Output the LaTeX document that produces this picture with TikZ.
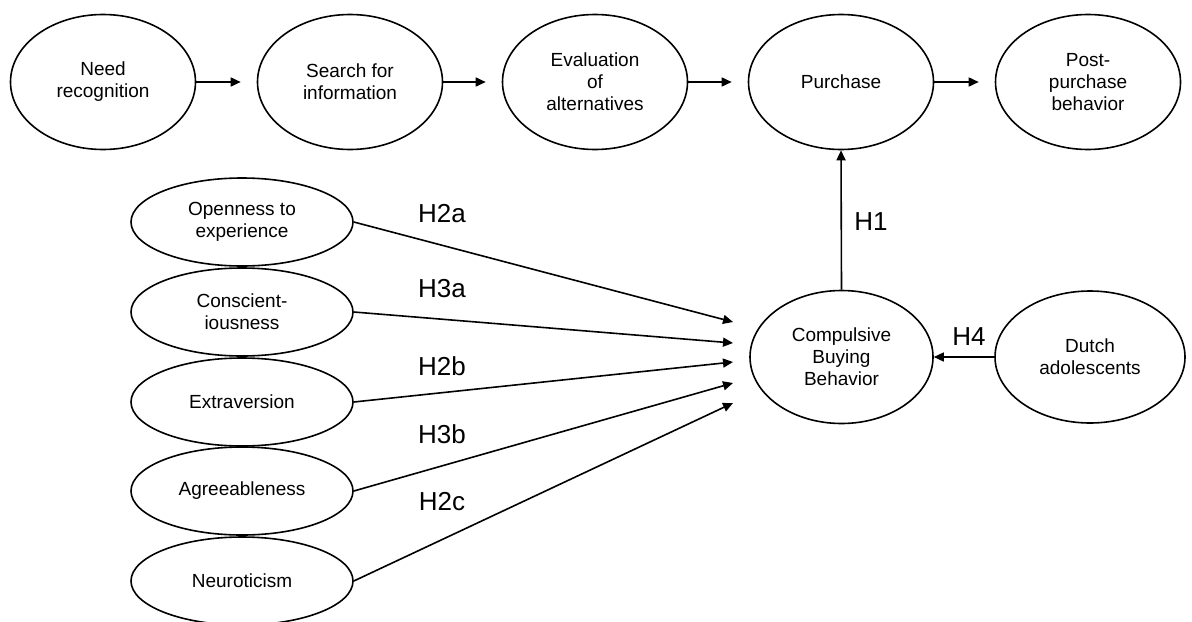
\documentclass[tikz,border=0pt]{standalone}
\usepackage{fontspec}
\setmainfont{Liberation Sans}
\usetikzlibrary{shapes.geometric,arrows.meta}
\tikzset{
	stage/.style={draw,thick,ellipse,inner sep=0pt,minimum width=92.5pt,minimum height=67.5pt,align=center,font=\fontsize{9.5}{11}\selectfont},
	trait/.style={draw,thick,ellipse,inner sep=0pt,minimum width=111pt,minimum height=44pt,align=center,font=\fontsize{9.5}{11}\selectfont},
	hyp/.style={font=\fontsize{13}{15}\selectfont},
	link/.style={thick,-{Triangle[length=5pt,width=4.5pt]}}
}
\begin{document}
\begin{tikzpicture}[x=0.5pt,y=-0.5pt]
	\useasboundingbox (0,0) rectangle (1192,621);
	\clip (0,0) rectangle (1192,621);
	% buying process
	\node[stage] (need) at (103,82) {Need\\recognition};
	\node[stage] (search) at (350,82) {Search for\\information};
	\node[stage] (eval) at (595,82) {Evaluation\\of\\alternatives};
	\node[stage] (purch) at (841,82) {Purchase};
	\node[stage] (post) at (1088,82) {Post-\\purchase\\behavior};
	\foreach \a/\b in {need/search,search/eval,eval/purch,purch/post} \draw[link,shorten >=8pt] (\a.east) -- (\b.west);
	% personality traits
	\node[trait] (open) at (242,222) {Openness to\\experience};
	\node[trait] (consc) at (242,312) {Conscient-\\iousness};
	\node[trait] (extra) at (242,402) {Extraversion};
	\node[trait] (agree) at (242,491) {Agreeableness};
	\node[trait] (neuro) at (242,581) {Neuroticism};
	\node[stage,minimum width=91.5pt,minimum height=66.5pt] (cbb) at (841.5,357) {Compulsive\\Buying\\Behavior};
	\node[stage,minimum width=95pt,minimum height=66pt] (dutch) at (1090,357) {Dutch\\adolescents};
	\coordinate (t1) at (733,322);
	\coordinate (t2) at (733,343);
	\coordinate (t3) at (733,362);
	\coordinate (t4) at (733,383);
	\coordinate (t5) at (733,403);
	\foreach \a/\b in {open/t1,consc/t2,extra/t3,agree/t4,neuro/t5} \draw[link] (\a.east) -- (\b);
	\draw[link] (cbb.north) -- (purch.south);
	\draw[link] (dutch.west) -- (cbb.east);
	% hypotheses
	\node[hyp] (h2a) at (442,214) {H2a};
	\node[hyp] (h3a) at (442,289) {H3a};
	\node[hyp] (h2b) at (442,366) {H2b};
	\node[hyp] (h3b) at (442,434) {H3b};
	\node[hyp] (h2c) at (442,502) {H2c};
	\node[hyp] (h1) at (871,222) {H1};
	\node[hyp] (h4) at (969,337) {H4};
\end{tikzpicture}
\end{document}
